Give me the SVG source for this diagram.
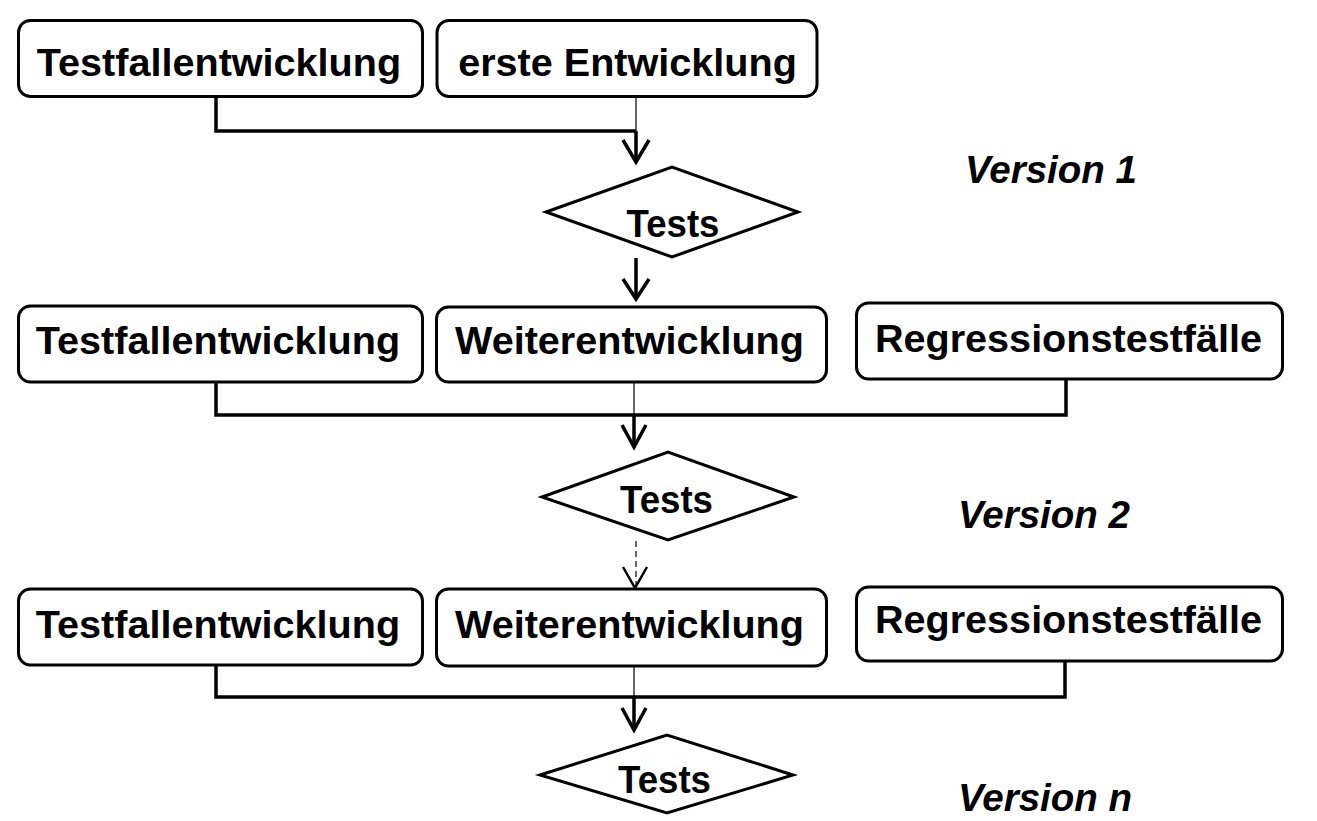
<svg xmlns="http://www.w3.org/2000/svg" width="1317" height="821" viewBox="0 0 1317 821">
<style>
.box{fill:#fff;stroke:#000;stroke-width:3}
.dia{fill:#fff;stroke:#000;stroke-width:3}
.lbl{font-family:"Liberation Sans",Arial,sans-serif;font-weight:bold;font-size:39.6px;fill:#000;text-anchor:middle}
.ver{font-family:"Liberation Sans",Arial,sans-serif;font-weight:bold;font-style:italic;font-size:38.5px;fill:#000}
.thick{fill:none;stroke:#000;stroke-width:3.5}
.thin{fill:none;stroke:#000;stroke-width:1.2}
.head{fill:none;stroke:#000;stroke-width:3.5}
.dash{fill:none;stroke:#000;stroke-width:1.2;stroke-dasharray:6 4}
</style>
<rect width="1317" height="821" fill="#fff"/>
<g id="connectors">
<path class="thick" d="M216 97 V131 H636"/>
<path class="thin" d="M636 97 V131"/>
<path class="thick" d="M636 131 V161"/>
<path class="head" d="M623 140 L636 162 L649 140"/>
<path class="thick" d="M636 258 V297"/>
<path class="head" d="M623 279 L636 299 L649 279"/>
<path class="thick" d="M216 382 V415 H1066 V379"/>
<path class="thin" d="M634 382 V415"/>
<path class="thick" d="M634 415 V446"/>
<path class="head" d="M622 425 L634 447 L646 425"/>
<path class="dash" d="M636 541 V586"/>
<path class="head" style="stroke-width:2.5" d="M623 567 L635 588 L647 567"/>
<path class="thick" d="M216 665 V697 H1065 V661"/>
<path class="thin" d="M634 666 V697"/>
<path class="thick" d="M634 697 V729"/>
<path class="head" d="M622 708 L634 730 L646 708"/>
</g>
<g id="n_testfall1"><rect class="box" x="18.5" y="20.5" width="404" height="76" rx="12"/><text class="lbl" x="219" y="76">Testfallentwicklung</text></g>
<g id="n_erste"><rect class="box" x="437" y="20.5" width="380" height="76" rx="12"/><text class="lbl" x="627.5" y="76">erste Entwicklung</text></g>
<g id="n_tests1"><polygon class="dia" points="546,212 672,167 798,212 672,257"/><text class="lbl" x="673" y="237" textLength="93" lengthAdjust="spacingAndGlyphs">Tests</text></g>
<g id="n_version1"><text class="ver" x="965" y="183">Version 1</text></g>
<g id="n_testfall2"><rect class="box" x="18.5" y="306" width="404" height="76" rx="12"/><text class="lbl" x="218" y="354">Testfallentwicklung</text></g>
<g id="n_weiter2"><rect class="box" x="436.5" y="307" width="390" height="75" rx="12"/><text class="lbl" x="629.5" y="354">Weiterentwicklung</text></g>
<g id="n_regr2"><rect class="box" x="856.5" y="303" width="426" height="76" rx="12"/><text class="lbl" x="1068.5" y="352">Regressionstestfälle</text></g>
<g id="n_tests2"><polygon class="dia" points="542,497 668,452 794,497 668,540"/><text class="lbl" x="666.5" y="513" textLength="93" lengthAdjust="spacingAndGlyphs">Tests</text></g>
<g id="n_version2"><text class="ver" x="958" y="528">Version 2</text></g>
<g id="n_testfall3"><rect class="box" x="18.5" y="589" width="404" height="76" rx="12"/><text class="lbl" x="218" y="638">Testfallentwicklung</text></g>
<g id="n_weiter3"><rect class="box" x="436.5" y="589" width="390" height="77" rx="12"/><text class="lbl" x="629.5" y="638">Weiterentwicklung</text></g>
<g id="n_regr3"><rect class="box" x="856.5" y="587" width="426" height="74" rx="12"/><text class="lbl" x="1068.5" y="633">Regressionstestfälle</text></g>
<g id="n_tests3"><polygon class="dia" points="540,775 667,735 793,775 667,813"/><text class="lbl" x="664.5" y="793" textLength="93" lengthAdjust="spacingAndGlyphs">Tests</text></g>
<g id="n_versionn"><text class="ver" x="958" y="811">Version n</text></g>
</svg>
